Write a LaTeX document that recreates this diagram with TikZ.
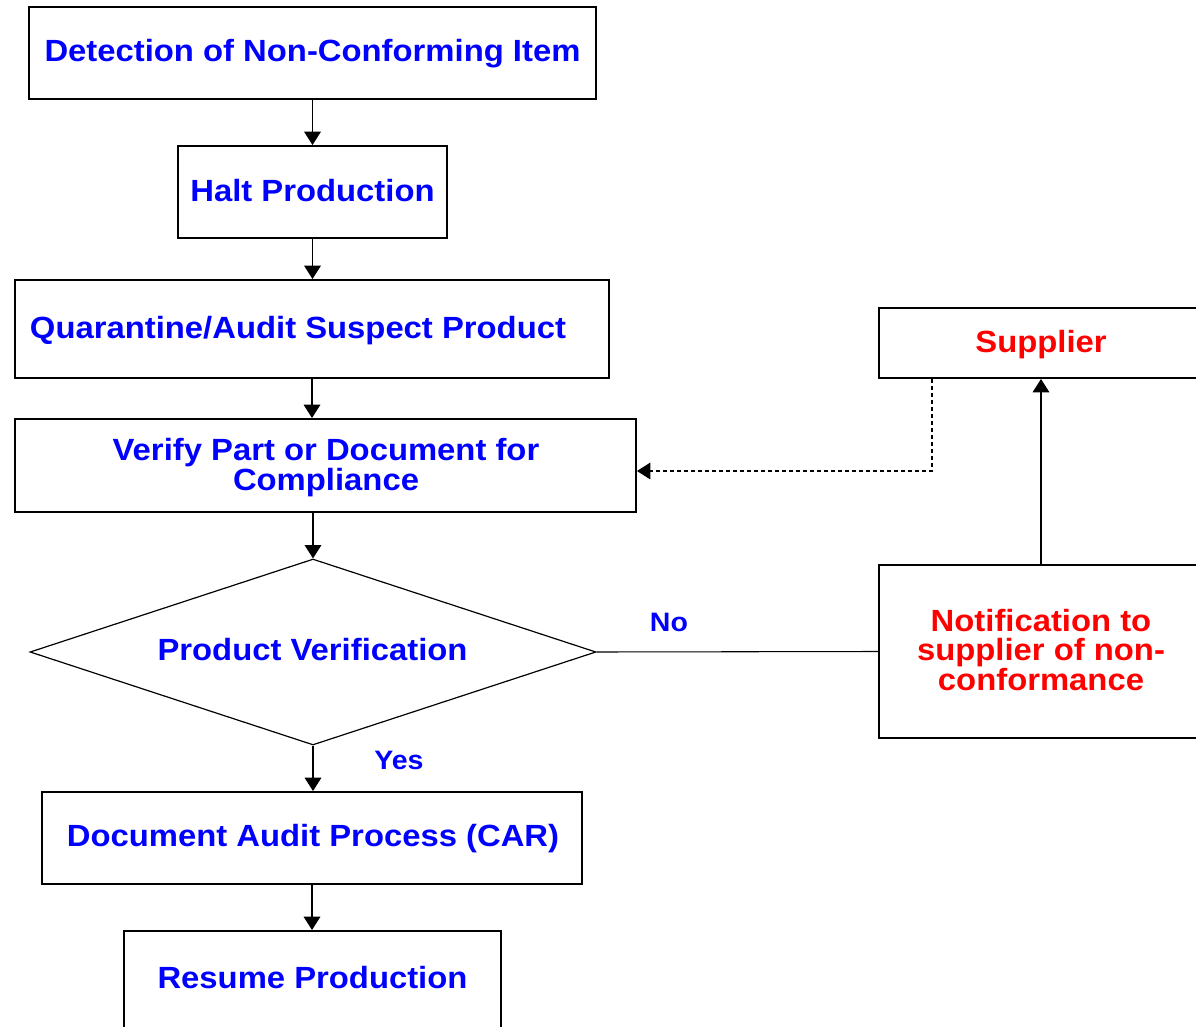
\documentclass[tikz,border=0pt]{standalone}
\usepackage{fontspec}
\setmainfont[FakeStretch=1.07]{Liberation Sans}
\usetikzlibrary{shapes.geometric,arrows.meta,calc}
\definecolor{tblue}{RGB}{0,0,255}
\definecolor{tred}{RGB}{255,0,0}
\def\px{0.75pt}
\begin{document}
\begin{tikzpicture}[x=0.75pt,y=-0.75pt,
  box/.style={draw, line width=1.5pt, rectangle, inner sep=0pt},
  lbl/.style={font=\bfseries\fontsize{23}{21.2}\selectfont, inner sep=0pt, align=center},
  single/.style={lbl, text height=16.5pt, text depth=0pt},
  small/.style={font=\bfseries\fontsize{20}{20}\selectfont, inner sep=0pt, text height=14.3pt, text depth=0pt, text=tblue},
  arr/.style={-{Triangle[length=10pt,width=12.5pt]}, line width=0.8pt},
  plain/.style={line width=0.8pt},
  dash line/.style={arr, dash pattern=on 3pt off 2.25pt}]
\useasboundingbox (0,0) rectangle (1196,1027);
\clip (0,0) rectangle (1196,1027);
% boxes
\node[box, minimum width=567*\px, minimum height=92*\px] (det) at (312.5,53) {};
\node[box, minimum width=269*\px, minimum height=92*\px] (halt) at (312.5,192) {};
\node[box, minimum width=594*\px, minimum height=98*\px] (quar) at (312,329) {};
\node[box, minimum width=621*\px, minimum height=93*\px] (ver) at (325.5,465.5) {};
\node[diamond, draw, line width=0.9pt, minimum width=566*\px, minimum height=186*\px, inner sep=0pt] (dia) at (313,652) {};
\node[box, minimum width=540*\px, minimum height=92*\px] (doc) at (312,838) {};
\node[box, minimum width=377*\px, minimum height=140*\px] (res) at (312.5,1001) {};
\node[box, minimum width=324*\px, minimum height=70*\px] (sup) at (1041,343) {};
\node[box, minimum width=324*\px, minimum height=173*\px] (note) at (1041,651.5) {};
% texts
\node[single, text=tblue] (tdet) at (312.5,51) {Detection of Non-Conforming Item};
\node[single, text=tblue] (thalt) at (312.5,190) {Halt Production};
\node[single, text=tblue] (tquar) at (298,327) {Quarantine/Audit Suspect Product};
\node[lbl, text=tblue] (tver) at (326,468) {Verify Part or Document for\\Compliance};
\node[single, text=tblue] (tdia) at (312.5,649) {Product Verification};
\node[single, text=tblue] (tdoc) at (313,835) {Document Audit Process (CAR)};
\node[single, text=tblue] (tres) at (312.5,977) {Resume Production};
\node[single, text=tred] (tsup) at (1041,341) {Supplier};
\node[lbl, text=tred] (tnote) at (1041,650) {Notification to\\supplier of non-\\conformance};
\node[small] (tno) at (669,622) {No};
\node[small] (tyes) at (399,760) {Yes};
% connectors
\draw[arr] (det.south) -- (halt.north);
\draw[arr] (halt.south) -- (halt.south |- quar.north);
\draw[arr] (quar.south) -- (quar.south |- ver.north);
\draw[arr] (dia.north |- ver.south) -- (dia.north);
\draw[arr] (dia.south) -- (dia.south |- doc.north);
\draw[arr] (doc.south) -- (doc.south |- res.north);
\draw[plain] (dia.east) -- (note.west);
\draw[arr] (note.north) -- (sup.south);
\coordinate (dstart) at ($(sup.south west)+(54,0)$);
\coordinate (dturn) at ($(ver.east)+(0,5.5)$);
\draw[dash line] (dstart) |- (dturn);
\end{tikzpicture}
\end{document}
